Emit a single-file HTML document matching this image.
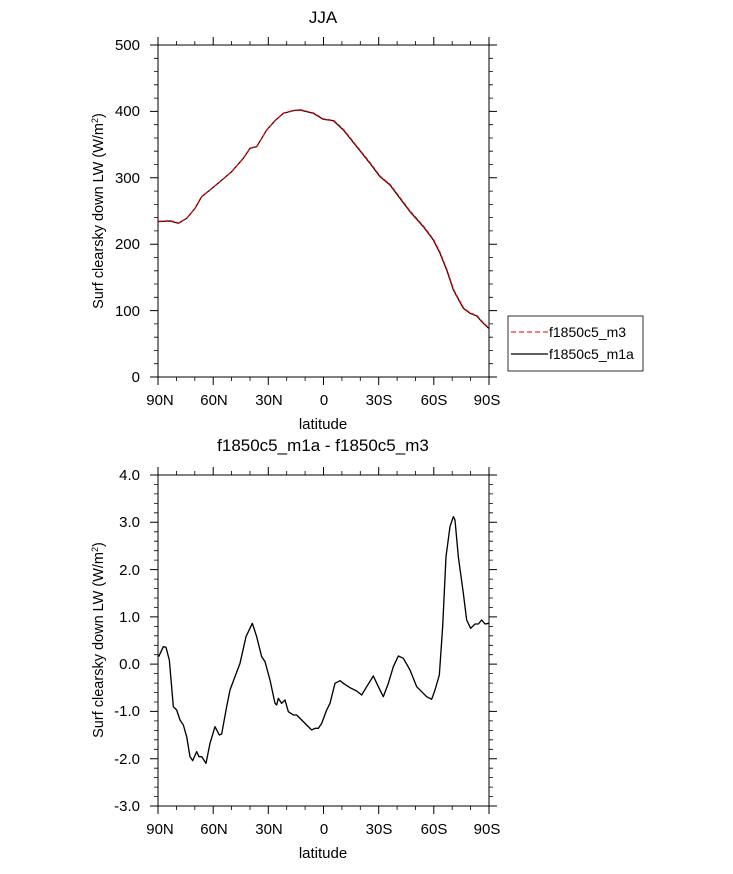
<!DOCTYPE html>
<html><head><style>body{margin:0;background:#fff}</style></head><body>
<svg width="733" height="869" xmlns="http://www.w3.org/2000/svg" font-family="Liberation Sans, sans-serif" fill="#000">
<rect width="733" height="869" fill="#fff"/>
<!-- TOP -->
<text x="323" y="23" font-size="17" text-anchor="middle">JJA</text>
<g stroke="#000" stroke-width="1" fill="none">
<rect x="158" y="45" width="331" height="332"/>
<path d="M158,45v-8M213.2,45v-8M268.3,45v-8M323.5,45v-8M378.7,45v-8M433.8,45v-8M489,45v-8
M158,377v8M213.2,377v8M268.3,377v8M323.5,377v8M378.7,377v8M433.8,377v8M489,377v8
M158,45h-8M158,111.4h-8M158,177.8h-8M158,244.2h-8M158,310.6h-8M158,377h-8
M489,45h8M489,111.4h8M489,177.8h8M489,244.2h8M489,310.6h8M489,377h8"/>
<path stroke-width="0.8" d="M176.4,45v-4M194.8,45v-4M231.6,45v-4M250,45v-4M286.7,45v-4M305.1,45v-4M341.9,45v-4M360.3,45v-4M397.1,45v-4M415.4,45v-4M452.2,45v-4M470.6,45v-4
M176.4,377v4M194.8,377v4M231.6,377v4M250,377v4M286.7,377v4M305.1,377v4M341.9,377v4M360.3,377v4M397.1,377v4M415.4,377v4M452.2,377v4M470.6,377v4
M158,58.3h-4M158,71.6h-4M158,84.8h-4M158,98.1h-4M158,124.7h-4M158,138h-4M158,151.2h-4M158,164.5h-4M158,191.1h-4M158,204.4h-4M158,217.6h-4M158,230.9h-4M158,257.5h-4M158,270.8h-4M158,284h-4M158,297.3h-4M158,323.9h-4M158,337.2h-4M158,350.4h-4M158,363.7h-4
M489,58.3h4M489,71.6h4M489,84.8h4M489,98.1h4M489,124.7h4M489,138h4M489,151.2h4M489,164.5h4M489,191.1h4M489,204.4h4M489,217.6h4M489,230.9h4M489,257.5h4M489,270.8h4M489,284h4M489,297.3h4M489,323.9h4M489,337.2h4M489,350.4h4M489,363.7h4"/>
</g>
<g font-size="15" text-anchor="end">
<text x="140" y="50">500</text><text x="140" y="116">400</text><text x="140" y="183">300</text><text x="140" y="249">200</text><text x="140" y="316">100</text><text x="140" y="382">0</text>
</g>
<g font-size="15" text-anchor="middle">
<text x="160" y="405">90N</text><text x="214" y="405">60N</text><text x="269" y="405">30N</text><text x="324" y="405">0</text><text x="379" y="405">30S</text><text x="434" y="405">60S</text><text x="487" y="405">90S</text>
<text x="323" y="429">latitude</text>
</g>
<text transform="translate(103,211) rotate(-90)" font-size="14.5" text-anchor="middle">Surf clearsky down LW (W/m<tspan font-size="9" dy="-5">2</tspan><tspan dy="5">)</tspan></text>
<g transform="translate(80,30) scale(0.33333)" fill="none" stroke-width="3.6" stroke-linejoin="round">
<path d="M234,575 L270,573 L295,580 L320,565 L345,535 L365,500 L390,480 L420,455 L455,425 L490,385 L510,355 L530,350 L560,300 L585,272 L610,250 L640,242 L660,240 L700,250 L730,268 L760,272 L790,300 L830,350 L870,400 L900,440 L930,465 L960,505 L990,545 L1030,590 L1060,630 L1080,670 L1100,720 L1120,780 L1150,835 L1170,850 L1190,858 L1205,875 L1226,895" stroke="#000"/>
<path d="M234,575 L270,573 L295,580 L320,565 L345,535 L365,500 L390,480 L420,455 L455,425 L490,385 L510,355 L530,350 L560,300 L585,272 L610,250 L640,242 L660,240 L700,250 L730,268 L760,272 L790,300 L830,350 L870,400 L900,440 L930,465 L960,505 L990,545 L1030,590 L1060,630 L1080,670 L1100,720 L1120,780 L1150,835 L1170,850 L1190,858 L1205,875 L1226,895" stroke="#e00" stroke-dasharray="12,6" transform="translate(1,-1)"/>
</g>
<!-- legend -->
<rect x="508" y="316" width="135" height="55" fill="none" stroke="#000" stroke-width="0.8"/>
<line x1="511" y1="332" x2="548" y2="332" stroke="#e33" stroke-width="1.2" stroke-dasharray="5,3"/>
<line x1="511" y1="354" x2="548" y2="354" stroke="#000" stroke-width="1.2"/>
<text x="549" y="337" font-size="14">f1850c5_m3</text>
<text x="549" y="359" font-size="14">f1850c5_m1a</text>
<!-- BOTTOM -->
<text x="323" y="451" font-size="17" text-anchor="middle">f1850c5_m1a - f1850c5_m3</text>
<g stroke="#000" stroke-width="1" fill="none">
<rect x="158" y="475" width="331" height="331"/>
<path d="M158,475v-8M213.2,475v-8M268.3,475v-8M323.5,475v-8M378.7,475v-8M433.8,475v-8M489,475v-8
M158,806v8M213.2,806v8M268.3,806v8M323.5,806v8M378.7,806v8M433.8,806v8M489,806v8
M158,475h-8M158,522.3h-8M158,569.6h-8M158,616.9h-8M158,664.1h-8M158,711.4h-8M158,758.7h-8M158,806h-8
M489,475h8M489,522.3h8M489,569.6h8M489,616.9h8M489,664.1h8M489,711.4h8M489,758.7h8M489,806h8"/>
<path stroke-width="0.8" d="M176.4,475v-4M194.8,475v-4M231.6,475v-4M250,475v-4M286.7,475v-4M305.1,475v-4M341.9,475v-4M360.3,475v-4M397.1,475v-4M415.4,475v-4M452.2,475v-4M470.6,475v-4
M176.4,806v4M194.8,806v4M231.6,806v4M250,806v4M286.7,806v4M305.1,806v4M341.9,806v4M360.3,806v4M397.1,806v4M415.4,806v4M452.2,806v4M470.6,806v4
M158,484.5h-4M158,493.9h-4M158,503.4h-4M158,512.8h-4M158,531.8h-4M158,541.2h-4M158,550.7h-4M158,560.1h-4M158,579.1h-4M158,588.5h-4M158,598h-4M158,607.4h-4M158,626.4h-4M158,635.8h-4M158,645.3h-4M158,654.7h-4M158,673.6h-4M158,683.1h-4M158,692.5h-4M158,702h-4M158,720.9h-4M158,730.4h-4M158,739.8h-4M158,749.3h-4M158,768.2h-4M158,777.6h-4M158,787.1h-4M158,796.5h-4
M489,484.5h4M489,493.9h4M489,503.4h4M489,512.8h4M489,531.8h4M489,541.2h4M489,550.7h4M489,560.1h4M489,579.1h4M489,588.5h4M489,598h4M489,607.4h4M489,626.4h4M489,635.8h4M489,645.3h4M489,654.7h4M489,673.6h4M489,683.1h4M489,692.5h4M489,702h4M489,720.9h4M489,730.4h4M489,739.8h4M489,749.3h4M489,768.2h4M489,777.6h4M489,787.1h4M489,796.5h4"/>
</g>
<g font-size="15" text-anchor="end">
<text x="140" y="480">4.0</text><text x="140" y="527">3.0</text><text x="140" y="575">2.0</text><text x="140" y="622">1.0</text><text x="140" y="669">0.0</text><text x="140" y="716">-1.0</text><text x="140" y="764">-2.0</text><text x="140" y="811">-3.0</text>
</g>
<g font-size="15" text-anchor="middle">
<text x="160" y="834">90N</text><text x="214" y="834">60N</text><text x="269" y="834">30N</text><text x="324" y="834">0</text><text x="379" y="834">30S</text><text x="434" y="834">60S</text><text x="487" y="834">90S</text>
<text x="323" y="858">latitude</text>
</g>
<text transform="translate(103,640) rotate(-90)" font-size="14.5" text-anchor="middle">Surf clearsky down LW (W/m<tspan font-size="9" dy="-5">2</tspan><tspan dy="5">)</tspan></text>
<g transform="translate(80,460) scale(0.33333)" fill="none" stroke="#000" stroke-width="4" stroke-linejoin="round">
<path d="M236,590 L250,560 L258,562 L268,600 L280,740 L290,750 L300,780 L310,795 L320,830 L330,890 L338,902 L350,875 L357,890 L365,890 L378,910 L390,850 L405,800 L418,825 L425,822 L440,740 L450,690 L465,650 L480,610 L498,530 L517,490 L530,530 L545,590 L555,605 L570,660 L585,730 L590,735 L595,715 L605,730 L615,720 L625,755 L640,765 L650,765 L665,780 L695,810 L705,805 L715,805 L725,790 L740,750 L750,730 L765,670 L780,662 L790,670 L810,683 L830,693 L845,705 L860,680 L880,648 L895,680 L910,710 L925,670 L940,620 L955,588 L970,595 L990,630 L1010,680 L1040,710 L1055,718 L1065,690 L1078,645 L1088,500 L1098,290 L1110,200 L1120,170 L1125,180 L1135,290 L1150,400 L1160,480 L1172,505 L1185,492 L1195,492 L1205,480 L1215,492 L1226,490"/>
</g>
</svg>
</body></html>
